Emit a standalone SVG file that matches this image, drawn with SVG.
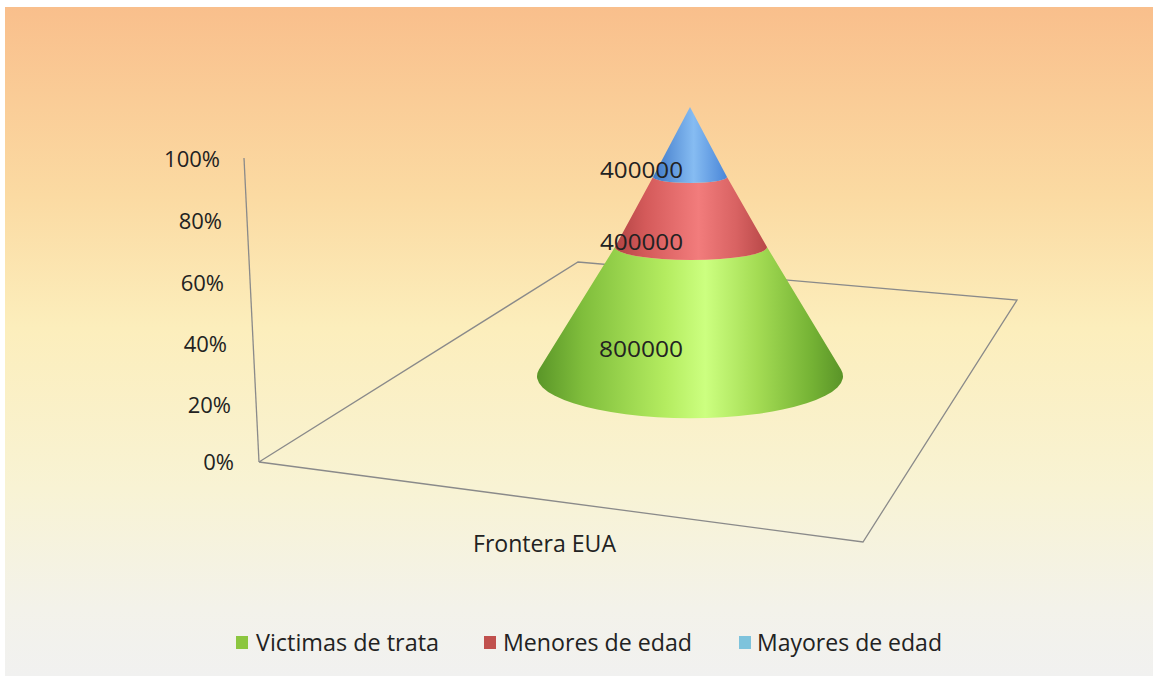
<svg xmlns="http://www.w3.org/2000/svg" width="1153" height="676" viewBox="0 0 1153 676">
<style>
.ax{fill:none;stroke:#8a8a8a;stroke-width:1.3}
.t{font-family:"Open Sans","Liberation Sans",sans-serif;fill:#222222}
.ylab{font-size:22px;text-anchor:end}
.val{font-size:22px}
.leg{font-size:23px}
</style>
<defs>
<linearGradient id="bg" x1="0" y1="7" x2="0" y2="676" gradientUnits="userSpaceOnUse">
<stop offset="0" stop-color="#F9BF8C"/>
<stop offset="0.28" stop-color="#FBDAA2"/>
<stop offset="0.48" stop-color="#FCEEBC"/>
<stop offset="0.72" stop-color="#F8F3D4"/>
<stop offset="0.9" stop-color="#F3F2EA"/>
<stop offset="1" stop-color="#F1F1F0"/>
</linearGradient>
<linearGradient id="gG" x1="537" y1="0" x2="843" y2="0" gradientUnits="userSpaceOnUse">
<stop offset="0" stop-color="#5A9628"/>
<stop offset="0.15" stop-color="#80BE3C"/>
<stop offset="0.42" stop-color="#B4EC60"/>
<stop offset="0.55" stop-color="#CCFF80"/>
<stop offset="0.72" stop-color="#A4DC54"/>
<stop offset="0.9" stop-color="#74B234"/>
<stop offset="1" stop-color="#5A9428"/>
</linearGradient>
<linearGradient id="gR" x1="615" y1="0" x2="767" y2="0" gradientUnits="userSpaceOnUse">
<stop offset="0" stop-color="#B24444"/>
<stop offset="0.2" stop-color="#D45A5A"/>
<stop offset="0.55" stop-color="#F27C7C"/>
<stop offset="0.8" stop-color="#D86262"/>
<stop offset="1" stop-color="#B84848"/>
</linearGradient>
<linearGradient id="gB" x1="653" y1="0" x2="727" y2="0" gradientUnits="userSpaceOnUse">
<stop offset="0" stop-color="#3E78C8"/>
<stop offset="0.55" stop-color="#86BCF2"/>
<stop offset="1" stop-color="#4A86D8"/>
</linearGradient>
</defs>
<rect x="0" y="0" width="1153" height="676" fill="#ffffff"/>
<rect x="5" y="7" width="1148" height="669" fill="url(#bg)"/>
<g id="axes">
<line class="ax" x1="244" y1="158" x2="259" y2="462"/>
<polyline class="ax" points="259,462 578,262 1017,300 863,542 259,462"/>
</g>
<g id="y-labels" class="t ylab">
<text x="220" y="167">100%</text>
<text x="222" y="229">80%</text>
<text x="224" y="291">60%</text>
<text x="227" y="352">40%</text>
<text x="231" y="413">20%</text>
<text x="234" y="470">0%</text>
</g>
<g id="cone">
<path id="seg-victimas" d="M615,247 L539,369.4 A153,42 0 1 0 841,369.4 L767,247 A76,13 0 0 1 615,247 Z" fill="url(#gG)"/>
<path id="seg-menores" d="M653,177 L615,247 A76,13 0 0 0 767,247 L727,177 A37,6 0 0 1 653,177 Z" fill="url(#gR)"/>
<path id="seg-mayores" d="M690,107 L653,177 A37,6 0 0 0 727,177 Z" fill="url(#gB)"/>
</g>
<g id="values" class="t val">
<text x="600" y="178" textLength="83" lengthAdjust="spacingAndGlyphs">400000</text>
<text x="600" y="250" textLength="83" lengthAdjust="spacingAndGlyphs">400000</text>
<text x="599" y="357" textLength="84" lengthAdjust="spacingAndGlyphs">800000</text>
</g>
<g id="x-label" class="t leg">
<text x="473" y="552" textLength="143" lengthAdjust="spacingAndGlyphs">Frontera EUA</text>
</g>
<g id="legend" class="t leg">
<rect x="236" y="636" width="12" height="13" fill="#8CC63F"/>
<text x="256" y="651" textLength="183" lengthAdjust="spacingAndGlyphs">Victimas de trata</text>
<rect x="484" y="636" width="12" height="13" fill="#C0504D"/>
<text x="503" y="651" textLength="189" lengthAdjust="spacingAndGlyphs">Menores de edad</text>
<rect x="739" y="636" width="12" height="13" fill="#7EC3DC"/>
<text x="757" y="651" textLength="185" lengthAdjust="spacingAndGlyphs">Mayores de edad</text>
</g>
</svg>
